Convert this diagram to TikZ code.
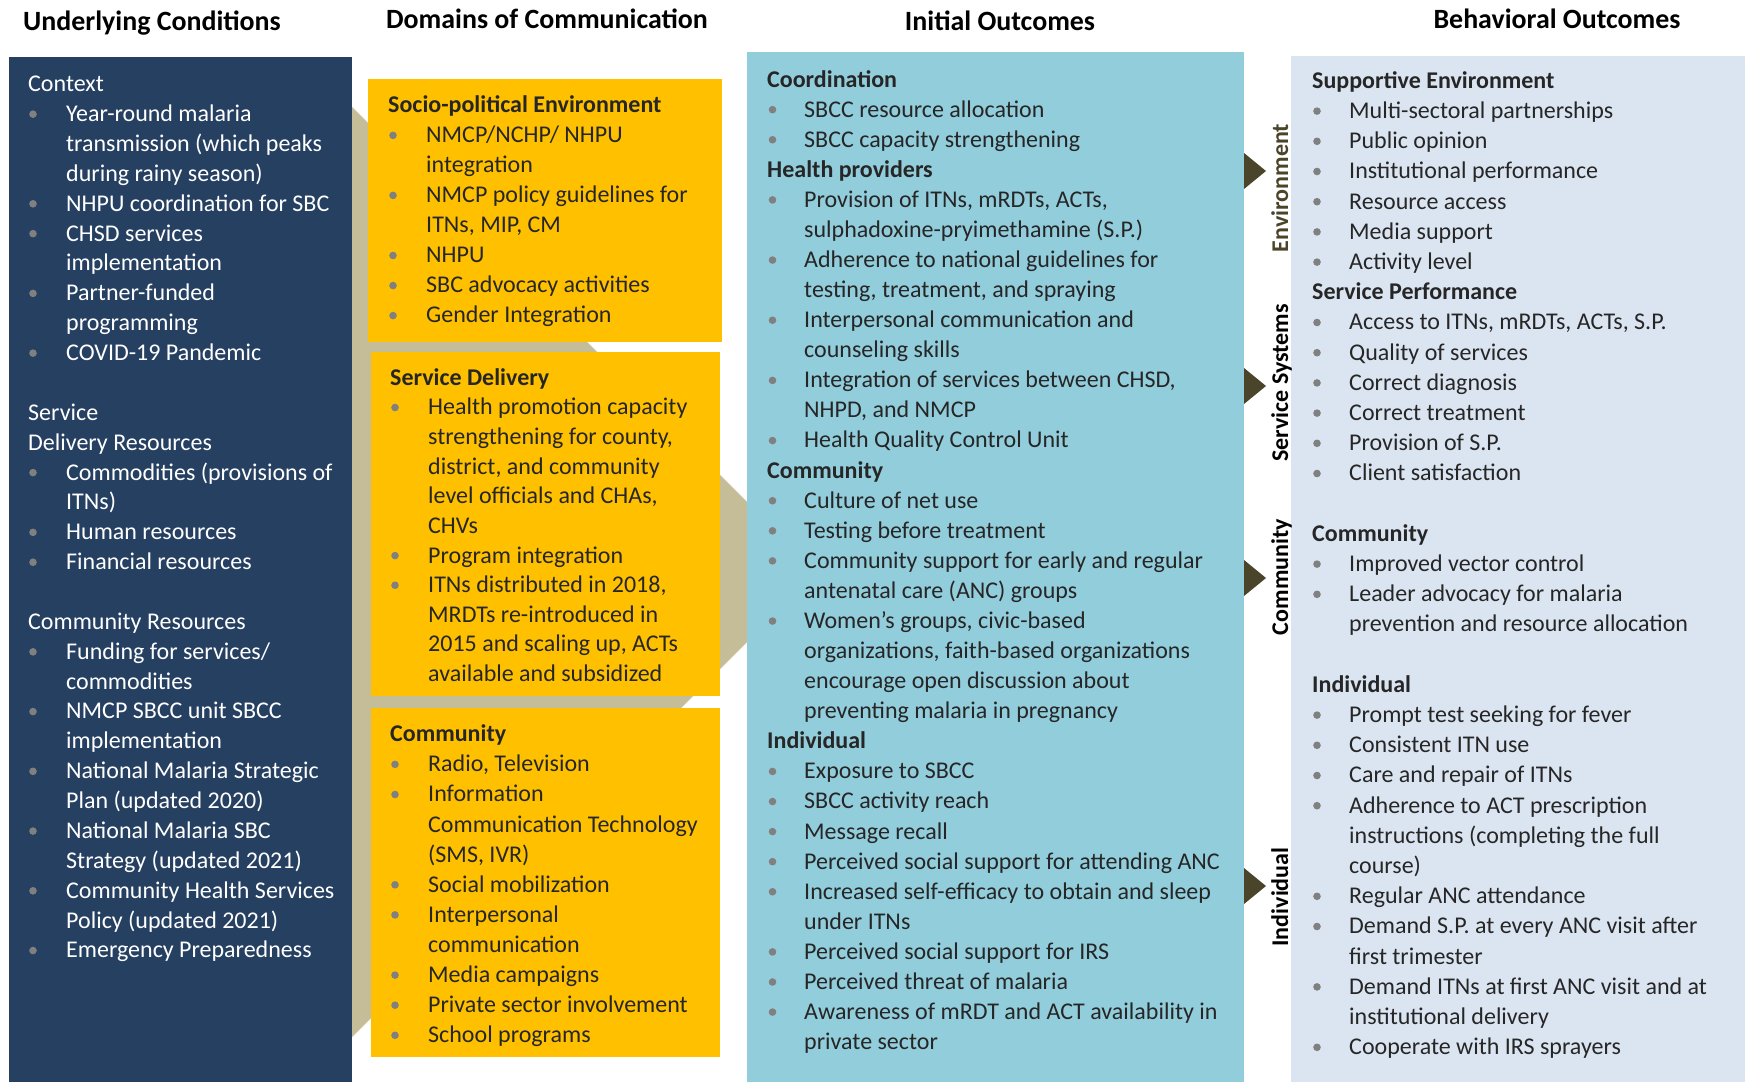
\documentclass[tikz,border=0pt]{standalone}
\usepackage{fontspec}
\setmainfont{Carlito}
\definecolor{navy}{HTML}{264062}
\definecolor{gold}{HTML}{FFC000}
\definecolor{tan}{HTML}{C4BD97}
\definecolor{aqua}{HTML}{92CDDC}
\definecolor{pale}{HTML}{DBE5F1}
\definecolor{olive}{HTML}{4A452A}
\definecolor{bulgray}{HTML}{808080}
\definecolor{ink}{HTML}{262626}
\tikzset{
  txt/.style={anchor=base west, inner sep=0pt, font=\fontsize{24}{28}\selectfont},
  hd/.style={anchor=base west, inner sep=0pt, font=\fontsize{24}{28}\selectfont\bfseries},
  title/.style={anchor=base, inner sep=0pt, font=\fontsize{27.9}{32}\selectfont\bfseries, text=black},
  vlab/.style={anchor=base, inner sep=0pt, rotate=90, font=\fontsize{24}{28}\selectfont\bfseries},
  tri/.style={fill=olive},
}
% #1 prefix, #2 x heading, #3 x bullet, #4 x text, #5 first baseline, #6 pitch, #7 colour, #8 list
\newcommand\mkcol[8]{%
  \foreach \ty/\tx [count=\i from 0] in {#8}{%
    \pgfmathsetmacro\yy{#5+\i*#6}%
    \if\ty h\node[hd, text=#7] (#1\i) at (#2,\yy) {\tx};\fi
    \if\ty g\node[txt, text=#7] (#1\i) at (#2,\yy) {\tx};\fi
    \if\ty b\fill[bulgray] (#3,\yy-7.4) circle (3.8);\node[txt, text=#7] (#1\i) at (#4,\yy) {\tx};\fi
    \if\ty c\node[txt, text=#7] (#1\i) at (#4,\yy) {\tx};\fi
  }%
}
\begin{document}
\begin{tikzpicture}[x=1pt,y=-1pt]
\useasboundingbox (0,0) rectangle (1745,1082);
\fill[white] (0,0) rectangle (1745,1082);
% backgrounds
\fill[tan] (340,95) -- (352,107) -- (817,572) -- (352,1037) -- (340,1049) -- cycle;
\fill[navy] (9,57) rectangle (352,1082);
\fill[gold] (368,79) rectangle (722,342);
\fill[gold] (371,352) rectangle (720,696);
\fill[gold] (371,708) rectangle (720,1057);
\fill[aqua] (747,52) rectangle (1244,1082);
\fill[pale] (1291,56) rectangle (1745,1082);
% arrow heads
\fill[tri] (1244,153) -- (1266,171) -- (1244,189) -- cycle;
\fill[tri] (1244,368) -- (1266,386) -- (1244,404) -- cycle;
\fill[tri] (1244,560) -- (1266,578) -- (1244,596) -- cycle;
\fill[tri] (1244,868) -- (1266,886) -- (1244,904) -- cycle;
% vertical labels
\node[vlab, text=olive] (vEnv) at (1288,188) {Environment};
\node[vlab, text=black] (vSer) at (1288,383) {Service Systems};
\node[vlab, text=black] (vCom) at (1288,577) {Community};
\node[vlab, text=black] (vInd) at (1288,897) {Individual};
% titles
\node[title] (t1) at (152,30) {Underlying Conditions};
\node[title] (t2) at (547,28) {Domains of Communication};
\node[title] (t3) at (1000,30) {Initial Outcomes};
\node[title] (t4) at (1557,28) {Behavioral Outcomes};
% left column
\mkcol{L}{28}{33}{66}{91.7}{29.87}{white}{g/{Context}, b/{Year-round malaria}, c/{transmission (which peaks}, c/{during rainy season)}, b/{NHPU coordination for SBC}, b/{CHSD services}, c/{implementation}, b/{Partner-funded}, c/{programming}, b/{COVID-19 Pandemic}, e/{}, g/{Service}, g/{Delivery Resources}, b/{Commodities (provisions of}, c/{ITNs)}, b/{Human resources}, b/{Financial resources}, e/{}, g/{Community Resources}, b/{Funding for services/}, c/{commodities}, b/{NMCP SBCC unit SBCC}, c/{implementation}, b/{National Malaria Strategic}, c/{Plan (updated 2020)}, b/{National Malaria SBC}, c/{Strategy (updated 2021)}, b/{Community Health Services}, c/{Policy (updated 2021)}, b/{Emergency Preparedness}}
% yellow boxes
\mkcol{A}{388}{393}{426}{112.7}{30.04}{ink}{h/{Socio-political Environment}, b/{NMCP/NCHP/ NHPU}, c/{integration}, b/{NMCP policy guidelines for}, c/{ITNs, MIP, CM}, b/{NHPU}, b/{SBC advocacy activities}, b/{Gender Integration}}
\mkcol{B}{390}{395}{428}{385.3}{29.62}{ink}{h/{Service Delivery}, b/{Health promotion capacity}, c/{strengthening for county,}, c/{district, and community}, c/{level officials and CHAs,}, c/{CHVs}, b/{Program integration}, b/{ITNs distributed in 2018,}, c/{MRDTs re-introduced in}, c/{2015 and scaling up, ACTs}, c/{available and subsidized}}
\mkcol{C}{390}{395}{428}{741.7}{30.1}{ink}{h/{Community}, b/{Radio, Television}, b/{Information}, c/{Communication Technology}, c/{(SMS, IVR)}, b/{Social mobilization}, b/{Interpersonal}, c/{communication}, b/{Media campaigns}, b/{Private sector involvement}, b/{School programs}}
% blue box
\mkcol{D}{767}{772.5}{804}{87}{30.08}{ink}{h/{Coordination}, b/{SBCC resource allocation}, b/{SBCC capacity strengthening}, h/{Health providers}, b/{Provision of ITNs, mRDTs, ACTs,}, c/{sulphadoxine-pryimethamine (S.P.)}, b/{Adherence to national guidelines for}, c/{testing, treatment, and spraying}, b/{Interpersonal communication and}, c/{counseling skills}, b/{Integration of services between CHSD,}, c/{NHPD, and NMCP}, b/{Health Quality Control Unit}, h/{Community}, b/{Culture of net use}, b/{Testing before treatment}, b/{Community support for early and regular}, c/{antenatal care (ANC) groups}, b/{Women’s groups, civic-based}, c/{organizations, faith-based organizations}, c/{encourage open discussion about}, c/{preventing malaria in pregnancy}, h/{Individual}, b/{Exposure to SBCC}, b/{SBCC activity reach}, b/{Message recall}, b/{Perceived social support for attending ANC}, b/{Increased self-efficacy to obtain and sleep}, c/{under ITNs}, b/{Perceived social support for IRS}, b/{Perceived threat of malaria}, b/{Awareness of mRDT and ACT availability in}, c/{private sector}}
% right box
\mkcol{E}{1312}{1317}{1349}{88.3}{30.2}{ink}{h/{Supportive Environment}, b/{Multi-sectoral partnerships}, b/{Public opinion}, b/{Institutional performance}, b/{Resource access}, b/{Media support}, b/{Activity level}, h/{Service Performance}, b/{Access to ITNs, mRDTs, ACTs, S.P.}, b/{Quality of services}, b/{Correct diagnosis}, b/{Correct treatment}, b/{Provision of S.P.}, b/{Client satisfaction}, e/{}, h/{Community}, b/{Improved vector control}, b/{Leader advocacy for malaria}, c/{prevention and resource allocation}, e/{}, h/{Individual}, b/{Prompt test seeking for fever}, b/{Consistent ITN use}, b/{Care and repair of ITNs}, b/{Adherence to ACT prescription}, c/{instructions (completing the full}, c/{course)}, b/{Regular ANC attendance}, b/{Demand S.P. at every ANC visit after}, c/{first trimester}, b/{Demand ITNs at first ANC visit and at}, c/{institutional delivery}, b/{Cooperate with IRS sprayers}}
\end{tikzpicture}
\end{document}
